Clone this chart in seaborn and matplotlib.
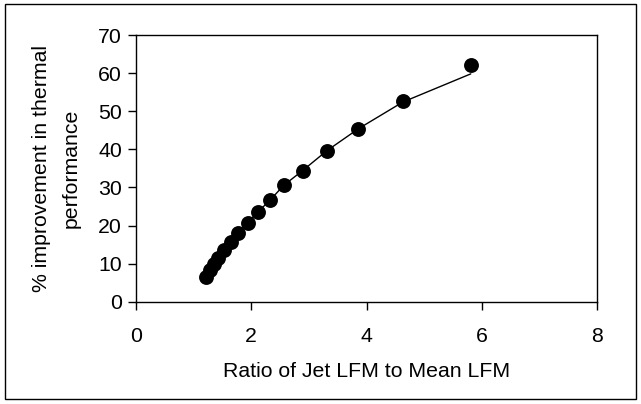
import matplotlib
matplotlib.use("Agg")
import matplotlib.pyplot as plt
import seaborn as sns
import pandas as pd
from matplotlib.patches import Rectangle

ratio = [1.22, 1.28, 1.35, 1.43, 1.53, 1.64, 1.77, 1.94, 2.11, 2.33, 2.56, 2.89, 3.31, 3.86, 4.63, 5.81]
improvement = [6.4, 8.3, 9.8, 11.6, 13.7, 15.6, 18.1, 20.7, 23.5, 26.7, 30.5, 34.4, 39.6, 45.4, 52.7, 62.1]
trend = [6.4, 8.3, 9.8, 11.6, 13.7, 15.6, 18.1, 20.7, 23.5, 26.7, 30.5, 34.4, 39.6, 45.4, 52.4, 59.8]
xticks = [0, 2, 4, 6, 8]
yticks = [0, 10, 20, 30, 40, 50, 60, 70]

df = pd.DataFrame({"ratio": ratio, "improvement": improvement, "trend": trend})

sns.set_theme(style="white")
plt.rcParams["font.family"] = ["Liberation Sans", "DejaVu Sans"]
FS = 15.3

fig = plt.figure(figsize=(6.41, 4.04), dpi=100)
ax = fig.add_axes([136/641, 1 - 301.7/404, (597 - 136)/641, (301.7 - 35)/404])

sns.lineplot(data=df, x="ratio", y="trend", color="black", lw=1, ax=ax)
sns.scatterplot(data=df, x="ratio", y="improvement", color="black", s=115,
                edgecolor="black", linewidth=0, ax=ax, zorder=3)

ax.set_xlim(0, 8)
ax.set_ylim(0, 70)
ax.set_xticks(xticks)
ax.set_yticks(yticks)
ax.tick_params(axis="both", which="both", direction="out", length=6, width=1,
               color="black", labelsize=FS, labelcolor="black", bottom=True, left=True)
ax.tick_params(axis="x", pad=12)
ax.tick_params(axis="y", pad=4)
for s in ax.spines.values():
    s.set_visible(True)
    s.set_color("black")
    s.set_linewidth(1)
ax.set_xlabel("Ratio of Jet LFM to Mean LFM", fontsize=FS, color="black", labelpad=12)
ax.set_ylabel("% improvement in thermal\nperformance", fontsize=FS, color="black",
              labelpad=13, linespacing=1.7)

fig.patches.append(Rectangle((5/641, 1 - 399/404), 631/641, 395/404, transform=fig.transFigure,
                             fill=False, edgecolor="black", lw=1))

fig.savefig("out.png", dpi=100)
